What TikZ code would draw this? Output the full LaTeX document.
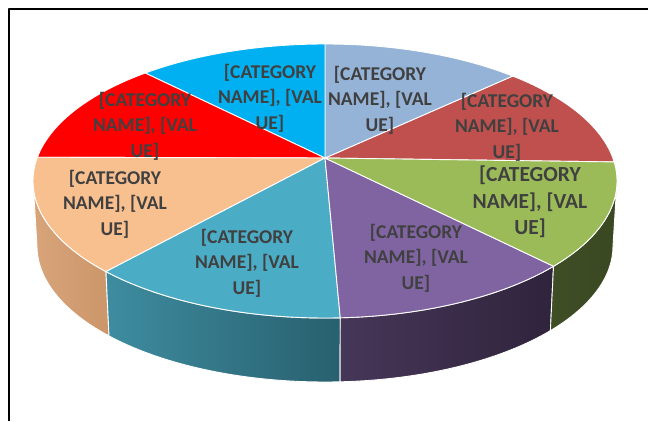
\documentclass[tikz,border=0pt]{standalone}
\usepackage{fontspec}
\setmainfont{Carlito}
\usetikzlibrary{calc}
\definecolor{steel}{HTML}{95B3D7}
\definecolor{sky}{HTML}{00B0F0}
\definecolor{brightred}{HTML}{FF0000}
\definecolor{peach}{HTML}{F9C08F}
\definecolor{teal}{HTML}{4BACC6}
\definecolor{purple}{HTML}{8064A2}
\definecolor{olive}{HTML}{9BBB59}
\definecolor{brick}{HTML}{C0504D}
\definecolor{peachL}{RGB}{216,164,122}
\definecolor{peachR}{RGB}{204,150,106}
\definecolor{tealL}{RGB}{62,140,160}
\definecolor{tealR}{RGB}{40,96,110}
\definecolor{purpleL}{RGB}{70,54,88}
\definecolor{purpleR}{RGB}{47,36,60}
\definecolor{oliveL}{RGB}{64,78,38}
\definecolor{oliveR}{RGB}{58,72,34}
\definecolor{labelgray}{HTML}{404040}

\begin{document}
\begin{tikzpicture}[x=1pt,y=1pt,line join=round]
\tikzset{slice/.style={draw=white,line width=0.9pt},
  rim/.style={draw=white,line width=0.9pt},
  lbl/.style={align=center,text=labelgray,inner sep=0pt,
    font=\bfseries\fontsize{19.5}{25.5}\selectfont},
  biglbl/.style={lbl,font=\bfseries\fontsize{21.5}{26.5}\selectfont}}
\useasboundingbox (0,0) rectangle (648,421);
\draw[line width=2.5pt] (9,0) -- (9,412) -- (648,412);

\coordinate (P) at (325,263);
\coordinate (E) at (325,240);
\coordinate (B) at (325,175);

% side of the pie
\foreach \a/\b/\cl/\cr in {180/221.4/peachL/peachR, 221.4/273/tealL/tealR,
    273/321.5/purpleL/purpleR, 321.5/360/oliveL/oliveR}
  \shade[rim,left color=\cl,right color=\cr]
    ($(E)+(\a:292 and 137)$) arc[start angle=\a,end angle=\b,x radius=292,y radius=137]
    -- ($(B)+(\b:288 and 136)$) arc[start angle=\b,end angle=\a,x radius=288,y radius=136]
    -- cycle;

% top of the pie
\foreach \a/\b/\col in {8/50/brick, 50/90/steel, 90/128/sky, 128/170/brightred,
    170/221.4/peach, 221.4/273/teal, 273/321.5/purple, 321.5/368/olive}
  \filldraw[slice,fill=\col] (P) -- ($(E)+(\a:292 and 137)$)
    arc[start angle=\a,end angle=\b,x radius=292,y radius=137] -- cycle;

% labels
\node[lbl] (lsteel)  at (380,321) {[CATEGORY\\NAME], [VAL\\UE]};
\node[lbl] (lsky)    at (270,323) {[CATEGORY\\NAME], [VAL\\UE]};
\node[lbl] (lred)    at (145,295) {[CATEGORY\\NAME], [VAL\\UE]};
\node[lbl] (lbrick)  at (507,294) {[CATEGORY\\NAME], [VAL\\UE]};
\node[biglbl] (lolive) at (530,219) {[CATEGORY\\NAME], [VAL\\UE]};
\node[lbl] (lpeach)  at (115,217) {[CATEGORY\\NAME], [VAL\\UE]};
\node[lbl] (lteal)   at (247,158) {[CATEGORY\\NAME], [VAL\\UE]};
\node[lbl] (lpurple) at (416,163) {[CATEGORY\\NAME], [VAL\\UE]};
\end{tikzpicture}
\end{document}
